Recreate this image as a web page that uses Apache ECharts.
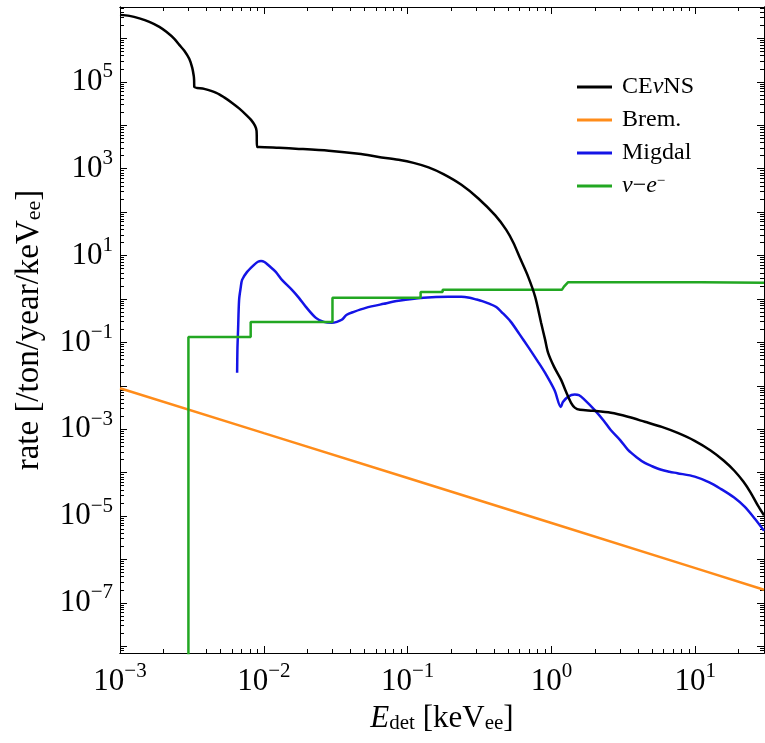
<!DOCTYPE html>
<html><head><meta charset="utf-8">
<script src="https://cdn.jsdelivr.net/npm/echarts@6/dist/echarts.min.js"></script>
<style>html,body{margin:0;padding:0;background:#fff}#c{width:765px;height:743px}</style>
</head><body><div id="c"></div>
<script>
// ---- data (E in keVee, rate in /ton/year/keVee) ----
const cevns = [[1.0e-3,3.49e6],[1.164e-3,3.31e6],[1.365e-3,2.90e6],[1.60e-3,2.41e6],[1.878e-3,1.85e6],[2.10e-3,1.42e6],[2.387e-3,9.8e5],[2.584e-3,7.1e5],[2.80e-3,5.2e5],[3.03e-3,3.39e5],[3.18e-3,2.1e5],[3.256e-3,1.37e5],[3.275e-3,1.1e5],[3.285e-3,7.7e4],[3.85e-3,6.9e4],[4.67e-3,5.6e4],[5.30e-3,4.4e4],[6.02e-3,3.28e4],[6.73e-3,2.45e4],[7.53e-3,1.74e4],[8.15e-3,1.33e4],[8.69e-3,9.7e3],[8.90e-3,7.4e3],[8.97e-3,3.18e3],[9.26e-3,3.18e3],[0.01274,3.02e3],[0.01754,2.86e3],[0.0283,2.58e3],[0.04567,2.20e3],[0.0629,1.87e3],[0.0865,1.60e3],[0.1099,1.36e3],[0.1396,1.07e3],[0.1773,748],[0.2363,425],[0.310,206],[0.4065,83.8],[0.4845,39.0],[0.5419,20.0],[0.606,8.5],[0.6885,3.23],[0.7697,1.12],[0.847,0.28],[0.903,0.114],[0.947,0.0574],[1.042,0.0273],[1.166,0.0137],[1.262,7.25e-3],[1.367,4.05e-3],[1.457,3.10e-3],[1.578,2.79e-3],[1.943,2.65e-3],[2.588,2.38e-3],[3.396,1.93e-3],[4.453,1.48e-3],[5.84,1.13e-3],[7.54,8.2e-4],[9.89,5.4e-4],[12.76,3.24e-4],[15.71,1.90e-4],[18.73,1.09e-4],[21.61,6.13e-5],[24.16,3.51e-5],[27.03,1.81e-5],[30,1.04e-5]];
const brem = [[1e-3,8.8e-3],[1e-2,8.1e-4],[0.1,7.5e-5],[1,6.9e-6],[10,6.3e-7],[30,2.0e-7]];
const migdal = [[6.52e-3,0.0199],[6.55e-3,0.0673],[6.62e-3,0.195],[6.73e-3,0.953],[6.9e-3,1.80],[7.06e-3,2.75],[7.65e-3,4.2],[8.55e-3,6.1],[9.1e-3,7.2],[9.56e-3,7.5],[0.0101,7.1],[0.01086,5.8],[0.0121,4.2],[0.01336,2.75],[0.01568,1.62],[0.01754,1.06],[0.0196,0.658],[0.023,0.367],[0.0261,0.297],[0.0297,0.282],[0.0322,0.297],[0.0348,0.330],[0.0377,0.431],[0.0422,0.505],[0.0511,0.624],[0.0681,0.771],[0.0865,0.904],[0.129,1.06],[0.192,1.117],[0.236,1.117],[0.27,1.06],[0.30,0.972],[0.33,0.89],[0.36,0.80],[0.41,0.658],[0.46,0.463],[0.52,0.300],[0.6,0.153],[0.69,0.0777],[0.8,0.037],[0.9,0.02005],[1.05,7.85e-3],[1.16,3.26e-3],[1.2,4.22e-3],[1.3,5.56e-3],[1.45,6.26e-3],[1.55,6.10e-3],[1.7,4.75e-3],[1.99,2.79e-3],[2.3,1.59e-3],[2.58,9.56e-4],[3.0,5.60e-4],[3.4,3.34e-4],[3.9,2.27e-4],[4.45,1.67e-4],[5.0,1.40e-4],[5.8,1.16e-4],[6.6,1.05e-4],[7.5,9.7e-5],[9.9,8.1e-5],[12.5,5.97e-5],[15,4.23e-5],[18.5,2.70e-5],[22,1.64e-5],[26,8.5e-6],[30,4.56e-6]];
const nue = [[2.99e-3,1e-10],[2.99e-3,0.133],[8.1e-3,0.133],[8.1e-3,0.294],[0.030,0.294],[0.030,1.06],[0.123,1.06],[0.123,1.44],[0.175,1.44],[0.175,1.62],[1.18,1.62],[1.22,1.92],[1.3,2.41],[11,2.41],[11.2,2.53],[30,2.35]];

const seriesNames = ['CEνNS','Brem.','Migdal','ν−e⁻'];
const seriesColors = ['#000000','#ff8c1a','#1414e6','#22a722'];
const seriesSmooth = [0.3, 0, 0.3, 0];
const legendLabels = ['CE{i|ν}NS','Brem.','Migdal','{i|ν}−{i|e}{sup|−}'];

const X_MIN = 1e-3, X_MAX = 30;
const Y_MIN = 7.0e-9, Y_MAX = 5.3e6;
const xLabelExp = [-3,-2,-1,0,1];
const yLabelExp = [-7,-5,-3,-1,1,3,5];
const xMajorExp = [-3,-2,-1,0,1];
const yMajorExp = [-9,-8,-7,-6,-5,-4,-3,-2,-1,0,1,2,3,4,5,6];
const minorMult = [2,3,4,5,6,7,8,9];

// ---- helpers ----
const F = '"Liberation Serif","Times New Roman",serif';
const p10 = e => Number('1e' + e);
function minorTicks(exps, lo, hi) {
  const out = [];
  for (const e of exps) for (const k of minorMult) { const v = k * p10(e); if (v > lo && v < hi) out.push(v); }
  return out;
}
function supLabel(v) {
  const e = Math.round(Math.log10(v));
  return '{b|10}{s|' + (e < 0 ? '−' + (-e) : e) + '}';
}
const labelRich = {
  b: {fontFamily: F, fontSize: 31, color: '#000'},
  s: {fontFamily: F, fontSize: 21, color: '#000', padding: [0, 0, 20, 0]}
};
function axisCommon(type) {
  return {
    type: 'log', logBase: 10,
    min: type === 'x' ? X_MIN : Y_MIN, max: type === 'x' ? X_MAX : Y_MAX,
    splitLine: {show: false}, minorTick: {show: false}, minorSplitLine: {show: false},
    axisLine: {show: true, onZero: false, lineStyle: {color: '#000', width: 1}}
  };
}
function makeAxis(type, pos, tickVals, len, labelVals) {
  const a = axisCommon(type);
  a.position = pos;
  a.axisTick = {show: true, inside: true, length: len, customValues: tickVals, lineStyle: {color: '#000', width: 1}};
  if (labelVals) {
    a.axisLabel = {show: true, customValues: labelVals, formatter: supLabel, rich: labelRich, margin: type === 'x' ? 8 : 7};
  } else {
    a.axisLabel = {show: false};
  }
  return a;
}

const xMajor = xMajorExp.map(p10);
const xMinor = minorTicks([-3,-2,-1,0,1], X_MIN, X_MAX);
const yMajor = yMajorExp.map(p10).filter(v => v > Y_MIN && v < Y_MAX);
const yMinor = minorTicks(yMajorExp, Y_MIN, Y_MAX);

const xAxes = [
  makeAxis('x', 'bottom', xMajor, 7, xLabelExp.map(p10)),
  makeAxis('x', 'bottom', xMinor, 4, null),
  makeAxis('x', 'top', xMajor, 7, null),
  makeAxis('x', 'top', xMinor, 4, null)
];
Object.assign(xAxes[0], {
  name: '{i|E}{sub|det} [keV{sub|ee}]', nameLocation: 'middle', nameGap: 50,
  nameTextStyle: {fontFamily: F, fontSize: 31, color: '#000', rich: {
    i: {fontFamily: F, fontSize: 31, fontStyle: 'italic', color: '#000'},
    sub: {fontFamily: F, fontSize: 21, color: '#000', padding: [10, 0, 0, 0]}
  }}
});
const yAxes = [
  makeAxis('y', 'left', yMajor, 7, yLabelExp.map(p10)),
  makeAxis('y', 'left', yMinor, 4, null),
  makeAxis('y', 'right', yMajor, 7, null),
  makeAxis('y', 'right', yMinor, 4, null)
];
Object.assign(yAxes[0], {
  name: 'rate [/ton/year/keV{sub|ee}]', nameLocation: 'middle', nameGap: 74,
  nameTextStyle: {fontFamily: F, fontSize: 33, color: '#000', rich: {
    sub: {fontFamily: F, fontSize: 22, color: '#000', padding: [10, 0, 0, 0]}
  }}
});

const datasets = [cevns, brem, migdal, nue];
const series = datasets.map((d, i) => ({
  name: seriesNames[i], type: 'line', xAxisIndex: 0, yAxisIndex: 0,
  data: d, showSymbol: false, symbol: 'none', smooth: seriesSmooth[i], clip: true,
  color: seriesColors[i],
  lineStyle: {color: seriesColors[i], width: 2.5},
  z: [4, 2, 3, 3][i]
}));

const chart = echarts.init(document.getElementById('c'), null, {renderer: 'canvas'});
chart.setOption({
  animation: false,
  backgroundColor: '#fff',
  grid: {left: 120, top: 7, width: 644, height: 646, outerBoundsMode: 'none', containLabel: false},
  xAxis: xAxes,
  yAxis: yAxes,
  legend: {
    orient: 'vertical', left: 572, top: 69, itemWidth: 35, itemHeight: 3, itemGap: 7,
    icon: 'rect', data: seriesNames,
    formatter: name => legendLabels[seriesNames.indexOf(name)],
    textStyle: {fontFamily: F, fontSize: 24, color: '#000', lineHeight: 26, padding: [0, 0, 0, 5], rich: {
      i: {fontFamily: F, fontSize: 24, fontStyle: 'italic', color: '#000', lineHeight: 26},
      sup: {fontFamily: F, fontSize: 15, color: '#000', padding: [0, 0, 10, 0], lineHeight: 26}
    }}
  },
  series: series
});
</script></body></html>
